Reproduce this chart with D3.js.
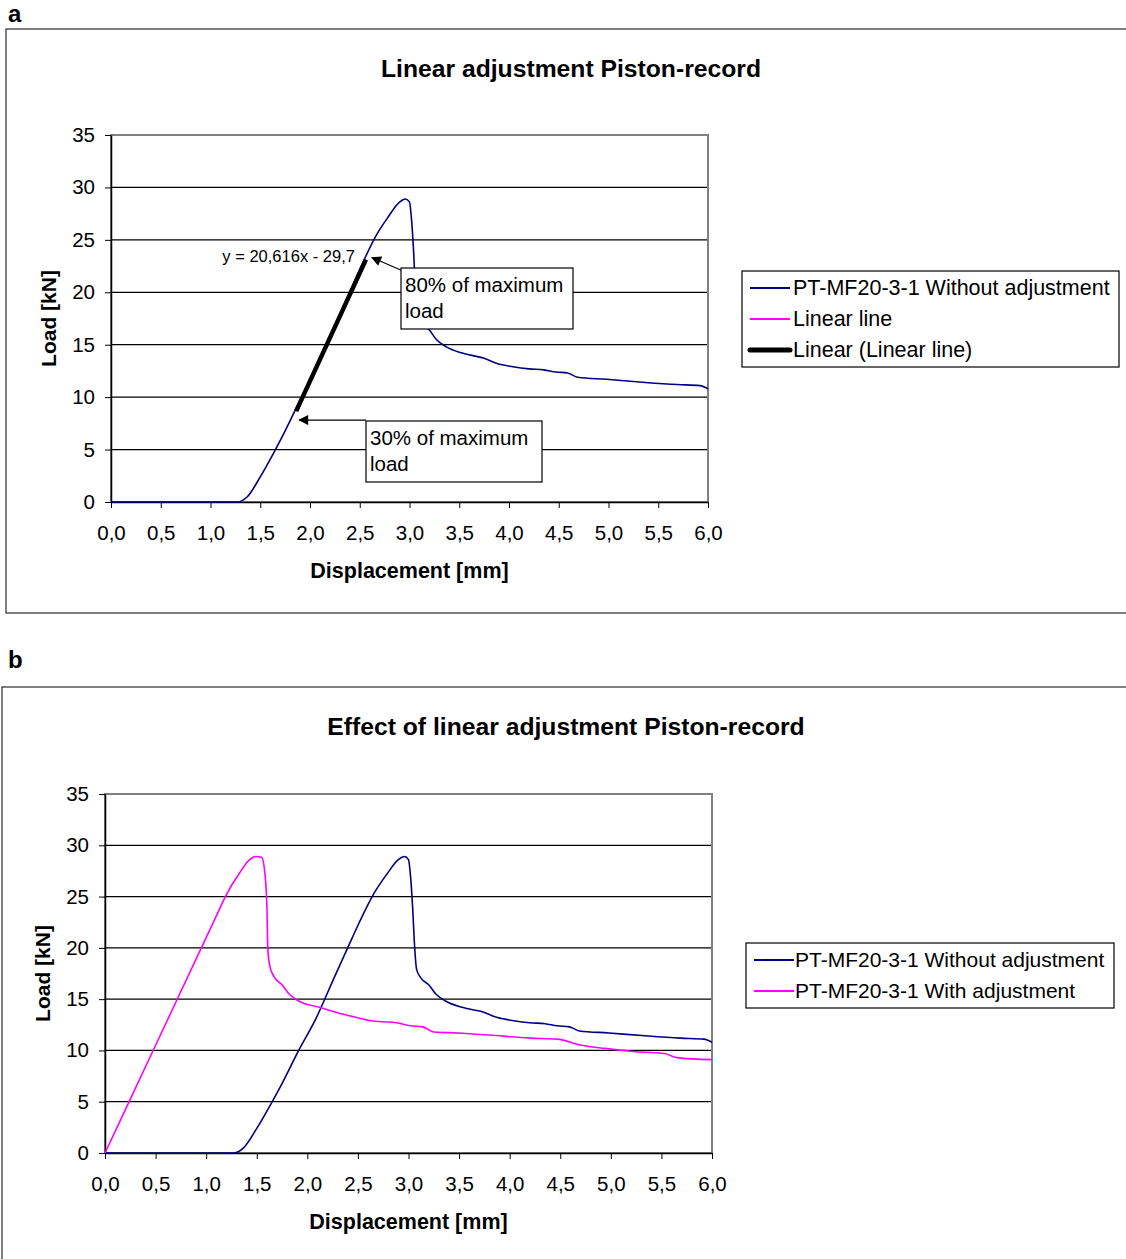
<!DOCTYPE html>
<html lang="en">
<head>
<meta charset="UTF-8">
<title>Piston-record</title>
<script src="https://d3js.org/d3.v7.min.js"></script>
<style>
  body { margin: 0; background: #fff; }
  text { font-family: "Liberation Sans", Arial, sans-serif; fill: #000; }
</style>
</head>
<body>
<svg width="1126" height="1259"></svg>
<script>
// data
var dispWithout = [0, 0.5, 1.0, 1.27, 1.37, 1.5, 1.63, 1.73, 1.92, 2.08, 2.27, 2.39, 2.51, 2.67, 2.78, 2.9, 2.96, 3.0, 3.02, 3.04, 3.06, 3.08, 3.12, 3.2, 3.27, 3.37, 3.53, 3.75, 3.88, 4.04, 4.2, 4.35, 4.47, 4.59, 4.69, 4.98, 5.37, 5.69, 5.92, 6.0];
var loadWithout = [0, 0, 0, 0, 0.5, 2.4, 4.6, 6.4, 10.1, 13.0, 17.2, 19.8, 22.4, 25.5, 27.1, 28.6, 28.9, 28.6, 27.0, 24.1, 20.2, 17.9, 17.1, 16.4, 15.5, 14.8, 14.2, 13.7, 13.2, 12.9, 12.7, 12.6, 12.4, 12.3, 11.9, 11.7, 11.4, 11.2, 11.1, 10.8];

var dispWith = [0, 0.3, 0.6, 0.9, 1.1, 1.2, 1.33, 1.43, 1.49, 1.55, 1.58, 1.6, 1.61, 1.63, 1.67, 1.75, 1.82, 1.92, 2.12, 2.29, 2.45, 2.63, 2.75, 2.88, 3.02, 3.14, 3.25, 3.49, 3.8, 4.2, 4.47, 4.71, 4.94, 5.22, 5.53, 5.65, 6.0];
var loadWith = [0, 6.3, 12.6, 18.9, 23.1, 25.2, 27.3, 28.6, 28.9, 28.8, 27.3, 24.1, 19.8, 18.2, 17.2, 16.4, 15.5, 14.8, 14.2, 13.7, 13.3, 12.9, 12.8, 12.7, 12.4, 12.3, 11.8, 11.7, 11.5, 11.2, 11.1, 10.5, 10.2, 9.9, 9.7, 9.3, 9.1];

var xTicks = [0, 0.5, 1, 1.5, 2, 2.5, 3, 3.5, 4, 4.5, 5, 5.5, 6];
var yTicks = [0, 5, 10, 15, 20, 25, 30, 35];

// linear fit between 30% and 80% of the maximum load
var slope = 20.616, intercept = -29.7;
var maxLoad = d3.max(loadWithout);
var fitLoads = [0.3 * maxLoad, 0.8 * maxLoad];

var svg = d3.select('svg');
var fmt = function (v) { return d3.format('.1f')(v).replace('.', ','); };
var navy = '#000080', pink = '#ff00ff';

function makeLine(x, y) {
    return d3.line().curve(d3.curveMonotoneX)
        .x(function (d) { return x(d[0]); }).y(function (d) { return y(d[1]); });
}

function panel(o) {
    // frame and letter
    svg.append('text').attr('x', 8).attr('y', o.letterY).attr('font-size', 24)
        .attr('font-weight', 'bold').text(o.letter);
    svg.append('rect').attr('x', o.frameX).attr('y', o.top).attr('width', 1126 - o.frameX + 5)
        .attr('height', o.frameH).attr('fill', 'none').attr('stroke', '#000').attr('stroke-width', 1);

    svg.append('text').attr('x', o.titleX).attr('y', o.top + 48).attr('text-anchor', 'middle')
        .attr('font-size', 24.7).attr('font-weight', 'bold').text(o.title);

    var x = d3.scaleLinear().domain([0, 6]).range([o.x0, o.x1]);
    var y = d3.scaleLinear().domain([0, 35]).range([o.y0, o.y1]);
    var g = svg.append('g');

    // grid
    g.selectAll('.grid').data(yTicks.slice(1, -1)).enter().append('line')
        .attr('x1', o.x0).attr('x2', o.x1).attr('y1', y).attr('y2', y)
        .attr('stroke', '#000').attr('stroke-width', 1.2);
    g.append('rect').attr('x', o.x0).attr('y', o.y1).attr('width', o.x1 - o.x0).attr('height', o.y0 - o.y1)
        .attr('fill', 'none').attr('stroke', '#808080').attr('stroke-width', 2);

    var xa = g.append('g').attr('transform', 'translate(0,' + o.y0 + ')')
        .call(d3.axisBottom(x).tickValues(xTicks).tickFormat(fmt).tickSizeInner(6).tickSizeOuter(0).tickPadding(17));
    var ya = g.append('g').attr('transform', 'translate(' + o.x0 + ',0)')
        .call(d3.axisLeft(y).tickValues(yTicks).tickFormat(d3.format('d')).tickSizeInner(6).tickSizeOuter(0).tickPadding(10));
    [xa, ya].forEach(function (a) {
        a.select('.domain').attr('stroke', '#000').attr('stroke-width', 1.5);
        a.selectAll('.tick line').attr('stroke', '#000');
        a.selectAll('text').attr('font-size', 20.5).attr('fill', '#000')
            .attr('font-family', '"Liberation Sans", Arial, sans-serif');
    });

    svg.append('text').attr('x', (o.x0 + o.x1) / 2).attr('y', o.y0 + 76).attr('text-anchor', 'middle')
        .attr('font-size', 21.5).attr('font-weight', 'bold').text('Displacement [mm]');
    svg.append('text').attr('transform', 'translate(' + (o.x0 - 55) + ',' + (o.y0 + o.y1) / 2 + ') rotate(-90)')
        .attr('text-anchor', 'middle').attr('font-size', 21).attr('font-weight', 'bold').text('Load [kN]');

    // legend
    var lg = svg.append('g');
    lg.append('rect').attr('x', o.legX).attr('y', o.legY).attr('width', o.legW)
        .attr('height', o.legend.length * 31 + 3).attr('fill', '#fff').attr('stroke', '#000').attr('stroke-width', 1.2);
    o.legend.forEach(function (l, i) {
        var cy = o.legY + 17 + i * 31;
        lg.append('line').attr('x1', o.legX + 8).attr('x2', o.legX + 48).attr('y1', cy).attr('y2', cy)
            .attr('stroke', l.color).attr('stroke-width', l.width).attr('stroke-linecap', l.width > 3 ? 'round' : 'butt');
        lg.append('text').attr('x', o.legX + o.legTextDx).attr('y', cy + 7).attr('font-size', o.legFont).text(l.label);
    });

    return { x: x, y: y, g: g };
}

svg.append('defs').append('marker').attr('id', 'arr').attr('viewBox', '0 0 10 10')
    .attr('refX', 9).attr('refY', 5).attr('markerWidth', 11).attr('markerHeight', 10)
    .attr('markerUnits', 'userSpaceOnUse').attr('orient', 'auto')
    .append('path').attr('d', 'M0,0L10,5L0,10z').attr('fill', '#000');

// ---- panel a
var a = panel({
    letter: 'a', letterY: 22, top: 29, frameX: 6, frameH: 584, title: 'Linear adjustment Piston-record', titleX: 571,
    x0: 111, x1: 708, y0: 502, y1: 135, legX: 742, legY: 271, legW: 377, legFont: 21.5, legTextDx: 51,
    legend: [
        { color: navy, width: 2, label: 'PT-MF20-3-1 Without adjustment' },
        { color: pink, width: 2, label: 'Linear line' },
        { color: '#000', width: 5, label: 'Linear (Linear line)' }
    ]
});
var lineA = makeLine(a.x, a.y);
var fitPts = fitLoads.map(function (v) { return [(v - intercept) / slope, v]; });
a.g.append('path').datum(d3.zip(dispWithout, loadWithout)).attr('d', lineA)
    .attr('fill', 'none').attr('stroke', navy).attr('stroke-width', 1.6);
a.g.append('path').datum(fitPts).attr('d', lineA).attr('fill', 'none').attr('stroke', pink).attr('stroke-width', 1.6);
a.g.append('path').datum(fitPts).attr('d', lineA).attr('fill', 'none').attr('stroke', '#000').attr('stroke-width', 4.5);
a.g.append('text').attr('x', a.x(fitPts[1][0]) - 11).attr('y', a.y(fitPts[1][1]) + 2)
    .attr('text-anchor', 'end').attr('font-size', 16.5).text('y = 20,616x - 29,7');

// callouts
function callout(px, py, bx, by, bw, lines, tipX, tipY) {
    a.g.append('line').attr('x1', px).attr('y1', py).attr('x2', tipX).attr('y2', tipY)
        .attr('stroke', '#000').attr('stroke-width', 1.2).attr('marker-end', 'url(#arr)');
    a.g.append('rect').attr('x', bx).attr('y', by).attr('width', bw).attr('height', 61)
        .attr('fill', '#fff').attr('stroke', '#000').attr('stroke-width', 1.2);
    lines.forEach(function (t, i) {
        a.g.append('text').attr('x', bx + 4).attr('y', by + 24 + i * 26).attr('font-size', 20.5).text(t);
    });
}
var tip80 = [a.x(fitPts[1][0]) + 6, a.y(fitPts[1][1]) - 2];
var tip30 = [a.x(fitPts[0][0]) + 3, a.y(fitPts[0][1]) + 9];
callout(403, 271, 401, 268, 172, ['80% of maximum', 'load'], tip80[0], tip80[1]);
callout(366, tip30[1], 366, 421, 176, ['30% of maximum', 'load'], tip30[0], tip30[1]);

// ---- panel b
var b = panel({
    letter: 'b', letterY: 668, top: 687, frameX: 2, frameH: 580, title: 'Effect of linear adjustment Piston-record', titleX: 566,
    x0: 105, x1: 712, y0: 1153, y1: 794, legX: 746, legY: 943, legW: 368, legFont: 21, legTextDx: 49,
    legend: [
        { color: navy, width: 2, label: 'PT-MF20-3-1 Without adjustment' },
        { color: pink, width: 2, label: 'PT-MF20-3-1 With adjustment' }
    ]
});
var lineB = makeLine(b.x, b.y);
b.g.append('path').datum(d3.zip(dispWithout, loadWithout)).attr('d', lineB)
    .attr('fill', 'none').attr('stroke', navy).attr('stroke-width', 1.6);
b.g.append('path').datum(d3.zip(dispWith, loadWith)).attr('d', lineB)
    .attr('fill', 'none').attr('stroke', pink).attr('stroke-width', 1.6);
</script>
</body>
</html>
